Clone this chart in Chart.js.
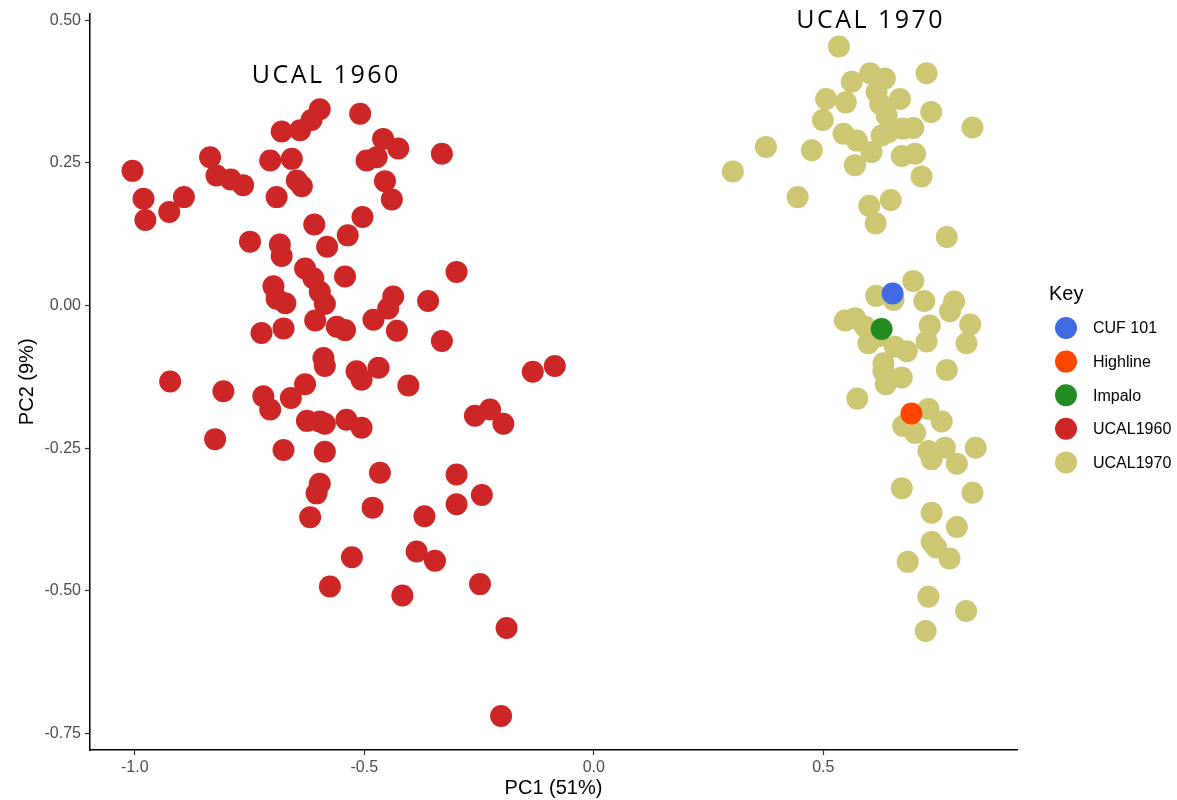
<!DOCTYPE html>
<html>
<head>
<meta charset="utf-8">
<title>PCA</title>
<script src="https://cdn.jsdelivr.net/npm/chart.js@4.4.1/dist/chart.umd.min.js"></script>
<style>
  html, body { margin: 0; padding: 0; background: #fff; }
  #wrap { width: 1177px; height: 800px; }
</style>
</head>
<body>
<div id="wrap"><canvas id="pcaChart" width="1177" height="800"></canvas></div>
<script>
// PC1 / PC2 scores per group
const ucal1960X = [
  -1.005, -0.981, -0.977, -0.925, -0.893, -0.836, -0.822, -0.791, -0.764, -0.705,
  -0.658, -0.691, -0.647, -0.636, -0.680, -0.640, -0.615, -0.597, -0.509, -0.459,
  -0.426, -0.473, -0.495, -0.331, -0.455, -0.440, -0.504, -0.536, -0.581, -0.609,
  -0.749, -0.684, -0.680, -0.629, -0.611, -0.597, -0.586, -0.542, -0.698, -0.691,
  -0.672, -0.299, -0.437, -0.448, -0.480, -0.429, -0.361, -0.331, -0.724, -0.676,
  -0.607, -0.560, -0.542, -0.589, -0.586, -0.517, -0.506, -0.469, -0.404, -0.133,
  -0.085, -0.923, -0.807, -0.720, -0.705, -0.660, -0.629, -0.625, -0.597, -0.586,
  -0.539, -0.506, -0.259, -0.226, -0.197, -0.676, -0.586, -0.825, -0.466, -0.597,
  -0.604, -0.618, -0.482, -0.299, -0.299, -0.244, -0.369, -0.527, -0.575, -0.386,
  -0.346, -0.417, -0.248, -0.190, -0.202
];
const ucal1960Y = [
  0.236, 0.187, 0.150, 0.164, 0.190, 0.260, 0.228, 0.221, 0.211, 0.254,
  0.257, 0.190, 0.219, 0.209, 0.305, 0.307, 0.325, 0.344, 0.336, 0.292,
  0.275, 0.260, 0.254, 0.266, 0.218, 0.186, 0.155, 0.123, 0.103, 0.142,
  0.112, 0.107, 0.087, 0.065, 0.048, 0.024, 0.003, 0.051, 0.034, 0.012,
  0.004, 0.059, 0.016, -0.005, -0.025, -0.044, 0.008, -0.062, -0.048, -0.040,
  -0.026, -0.037, -0.043, -0.092, -0.106, -0.115, -0.130, -0.109, -0.140, -0.116,
  -0.106, -0.133, -0.150, -0.159, -0.182, -0.162, -0.138, -0.202, -0.203, -0.207,
  -0.200, -0.214, -0.193, -0.182, -0.207, -0.253, -0.256, -0.234, -0.293, -0.312,
  -0.329, -0.371, -0.354, -0.296, -0.348, -0.332, -0.369, -0.441, -0.492, -0.431,
  -0.447, -0.508, -0.488, -0.565, -0.719
];
const ucal1970X = [
  0.534, 0.562, 0.602, 0.634, 0.725, 0.616, 0.506, 0.549, 0.624, 0.667,
  0.638, 0.499, 0.735, 0.825, 0.544, 0.573, 0.605, 0.627, 0.642, 0.674,
  0.696, 0.375, 0.475, 0.303, 0.569, 0.671, 0.700, 0.714, 0.444, 0.600,
  0.647, 0.614, 0.769, 0.696, 0.615, 0.653, 0.720, 0.785, 0.776, 0.547,
  0.569, 0.591, 0.732, 0.725, 0.820, 0.812, 0.598, 0.619, 0.656, 0.682,
  0.631, 0.631, 0.671, 0.636, 0.769, 0.574, 0.729, 0.758, 0.674, 0.700,
  0.729, 0.736, 0.765, 0.791, 0.832, 0.671, 0.825, 0.736, 0.791, 0.736,
  0.746, 0.775, 0.684, 0.729, 0.811, 0.723
];
const ucal1970Y = [
  0.454, 0.392, 0.407, 0.398, 0.407, 0.374, 0.362, 0.356, 0.353, 0.362,
  0.333, 0.325, 0.339, 0.312, 0.301, 0.289, 0.269, 0.298, 0.304, 0.310,
  0.311, 0.278, 0.272, 0.235, 0.246, 0.262, 0.266, 0.226, 0.190, 0.175,
  0.185, 0.144, 0.120, 0.043, 0.017, 0.010, 0.008, 0.007, -0.010, -0.026,
  -0.022, -0.037, -0.035, -0.063, -0.033, -0.066, -0.066, -0.054, -0.072, -0.080,
  -0.101, -0.115, -0.126, -0.138, -0.113, -0.163, -0.181, -0.203, -0.211, -0.223,
  -0.255, -0.269, -0.249, -0.277, -0.249, -0.320, -0.328, -0.363, -0.388, -0.414,
  -0.424, -0.443, -0.449, -0.510, -0.535, -0.570
];
// named check varieties
const varietyNames = ['CUF 101', 'Highline', 'Impalo'];
const varietyX = [0.651, 0.692, 0.627];
const varietyY = [0.021, -0.189, -0.041];

const groupNames = ['UCAL1960', 'UCAL1970'];
const keyColors = ['#4169E1', '#FF4500', '#228B22', '#CD2626', '#CDC673'];

const xTicks = [-1.0, -0.5, 0.0, 0.5];
const yTicks = [0.50, 0.25, 0.00, -0.25, -0.50, -0.75];

const groupLabels = [
  { text: 'UCAL 1960', x: -0.585, y: 0.403 },
  { text: 'UCAL 1970', x: 0.601, y: 0.499 }
];

function toPoints(xs, ys) {
  return xs.map((x, i) => ({ x: x, y: ys[i] }));
}

const datasets = [];
varietyNames.forEach((name, i) => {
  datasets.push({ label: name, data: [{ x: varietyX[i], y: varietyY[i] }], backgroundColor: keyColors[i] });
});
datasets.push({ label: groupNames[0], data: toPoints(ucal1960X, ucal1960Y), backgroundColor: keyColors[3] });
datasets.push({ label: groupNames[1], data: toPoints(ucal1970X, ucal1970Y), backgroundColor: keyColors[4] });
datasets.forEach(ds => {
  ds.pointRadius = 11;
  ds.pointHoverRadius = 11;
  ds.borderWidth = 0;
});

// group names written over the clusters
const groupLabelPlugin = {
  id: 'groupLabels',
  afterDatasetsDraw(chart) {
    const ctx = chart.ctx;
    const xs = chart.scales.x, ys = chart.scales.y;
    ctx.save();
    ctx.font = '25px "Open Sans"';
    ctx.letterSpacing = '2.5px';
    ctx.fillStyle = '#000';
    ctx.textAlign = 'center';
    ctx.textBaseline = 'middle';
    groupLabels.forEach(g => {
      ctx.fillText(g.text, xs.getPixelForValue(g.x) + 1, ys.getPixelForValue(g.y));
    });
    ctx.restore();
  }
};

// legend box on the right
const keyPlugin = {
  id: 'keyBox',
  afterDraw(chart) {
    const ctx = chart.ctx;
    ctx.save();
    ctx.fillStyle = '#000';
    ctx.textAlign = 'left';
    ctx.textBaseline = 'middle';
    ctx.font = '20px "Liberation Sans", Arial, sans-serif';
    ctx.fillText('Key', 1049, 294);
    ctx.font = '16px "Liberation Sans", Arial, sans-serif';
    chart.data.datasets.forEach((ds, i) => {
      const cy = 328 + i * 33.6;
      ctx.beginPath();
      ctx.arc(1066, cy, 11, 0, Math.PI * 2);
      ctx.fillStyle = ds.backgroundColor;
      ctx.fill();
      ctx.fillStyle = '#000';
      ctx.fillText(ds.label, 1093, cy + 1);
    });
    ctx.restore();
  }
};

const tickFont = { family: '"Liberation Sans", Arial, sans-serif', size: 16 };
const titleFont = { family: '"Liberation Sans", Arial, sans-serif', size: 20 };

new Chart(document.getElementById('pcaChart'), {
  type: 'scatter',
  data: { datasets: datasets },
  options: {
    responsive: false,
    animation: false,
    devicePixelRatio: 1,
    layout: { padding: { left: 0, top: 11, right: 160, bottom: 0 } },
    plugins: {
      legend: { display: false },
      tooltip: { enabled: false }
    },
    scales: {
      x: {
        type: 'linear',
        min: -1.0976,
        max: 0.922,
        afterFit: s => { s.height = 50; },
        afterBuildTicks: s => { s.ticks = xTicks.map(v => ({ value: v })); },
        border: { display: true, color: '#000', width: 1.5 },
        grid: { display: true, drawOnChartArea: false, drawTicks: true, tickLength: 5, color: '#333', tickWidth: 1.2 },
        ticks: { color: '#4D4D4D', font: tickFont, padding: 3, maxRotation: 0, callback: v => v.toFixed(1) },
        title: { display: true, text: 'PC1 (51%)', color: '#000', font: titleFont, padding: { top: 0, bottom: 0 } }
      },
      y: {
        type: 'linear',
        min: -0.7786,
        max: 0.5115,
        afterFit: s => { s.width = 90; },
        afterBuildTicks: s => { s.ticks = yTicks.map(v => ({ value: v })); },
        border: { display: true, color: '#000', width: 1.5 },
        grid: { display: true, drawOnChartArea: false, drawTicks: true, tickLength: 5, color: '#333', tickWidth: 1.2 },
        ticks: { color: '#4D4D4D', font: tickFont, padding: 4, callback: v => v.toFixed(2) },
        title: { display: true, text: 'PC2 (9%)', color: '#000', font: titleFont, padding: { top: 15, bottom: 0 } }
      }
    }
  },
  plugins: [groupLabelPlugin, keyPlugin]
});
</script>
</body>
</html>
